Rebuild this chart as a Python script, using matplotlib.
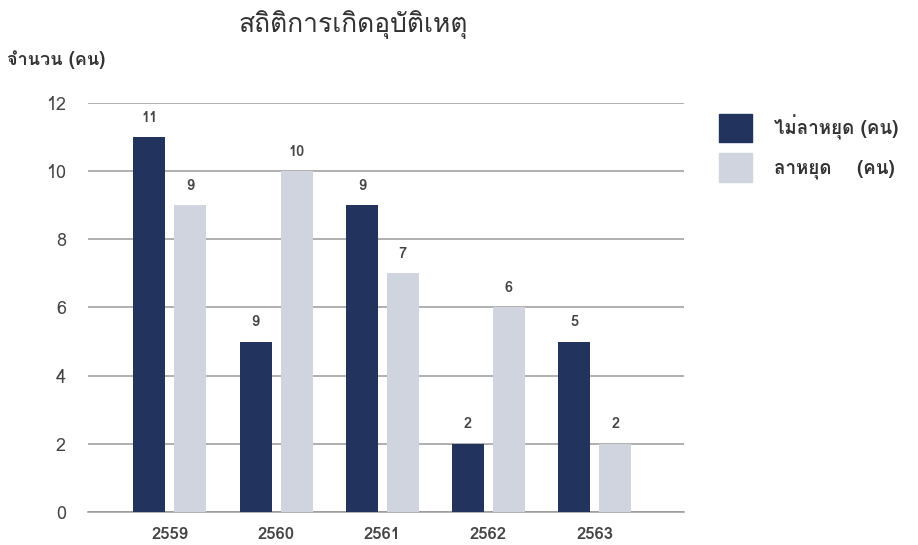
import numpy as np
import matplotlib
matplotlib.use('Agg')
import matplotlib.pyplot as plt
from matplotlib import font_manager
from matplotlib.ft2font import FT2Font
from matplotlib.patches import Patch

# ── Data ──────────────────────────────────────────────────────────────────────
years       = ['2559', '2560', '2561', '2562', '2563']
no_leave    = [11, 5, 9, 2, 5]        # bar heights, dark series
no_leave_lb = ['11', '9', '9', '2', '5']  # labels as printed in the source
leave       = [9, 10, 7, 6, 2]
leave_lb    = ['9', '10', '7', '6', '2']
series_names = ['ไม่ลาหยุด (คน)', 'ลาหยุด    (คน)']
title  = 'สถิติการเกิดอุบัติเหตุ'
ylabel = 'จำนวน (คน)'

DARK  = '#22335e'
LIGHT = '#cfd4df'
TEXT  = '#444444'

# ── Pick a font that has Thai glyphs ──────────────────────────────────────────
thai_font = None
for f in font_manager.fontManager.ttflist:
    try:
        if ord('ส') in FT2Font(f.fname).get_charmap():
            thai_font = f.name
            break
    except Exception:
        pass
families = ([thai_font] if thai_font else []) + ['DejaVu Sans']
plt.rcParams['font.family'] = families

# ── Plot ──────────────────────────────────────────────────────────────────────
fig = plt.figure(figsize=(9.18, 5.45), dpi=100)
ax = fig.add_axes([0.096, 0.0606, 0.649, 0.7504])

x = np.arange(len(years))
w = 0.30
off = 0.193
b1 = ax.bar(x - off, no_leave, w, color=DARK, zorder=3)
b2 = ax.bar(x + off, leave, w, color=LIGHT, zorder=3)

for bars, labels in [(b1, no_leave_lb), (b2, leave_lb)]:
    for r, lb in zip(bars, labels):
        ax.annotate(lb, (r.get_x() + r.get_width() / 2, r.get_height()),
                    xytext=(0, 9), textcoords='offset points',
                    ha='center', va='bottom', fontsize=10.5,
                    fontweight='bold', color=TEXT)

ax.set_xlim(-0.77, 4.84)
ax.set_ylim(0, 12)
ax.set_yticks(range(0, 13, 2))
ax.yaxis.grid(True, color='#9a9a9a', linewidth=1.1, zorder=0)
ax.set_xticks(x)
ax.set_xticklabels(years, fontsize=12, fontweight='bold', color=TEXT)
ax.tick_params(axis='y', length=0, labelsize=13, labelcolor=TEXT, pad=16)
ax.tick_params(axis='x', length=0, pad=11)
for s in ['top', 'right', 'left']:
    ax.spines[s].set_visible(False)
ax.spines['bottom'].set_color('#9a9a9a')
ax.spines['bottom'].set_linewidth(1.1)

fig.text(0.385, 0.955, title, ha='center', va='center', fontsize=19, color='#333333')
fig.text(0.008, 0.89, ylabel, ha='left', va='center', fontsize=13,
         fontweight='bold', color='#333333')

handles = [Patch(color=DARK), Patch(color=LIGHT)]
fig.legend(handles, series_names, loc='upper left', bbox_to_anchor=(0.765, 0.822),
           frameon=False, prop={'size': 13.5, 'weight': 'bold'},
           handlelength=1.75, handleheight=1.95,
           labelspacing=0.6, handletextpad=1.15, labelcolor='#333333')

plt.savefig('out.png', dpi=100)
